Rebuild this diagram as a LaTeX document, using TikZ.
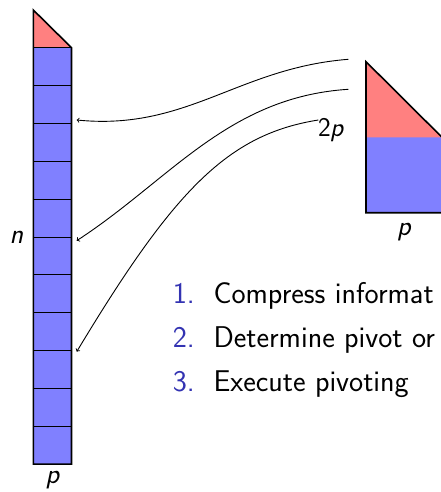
\documentclass[tikz,border=0pt]{standalone}
\usepackage{fontspec}
\definecolor{struct}{rgb}{0.2,0.2,0.7}
\begin{document}
\begin{tikzpicture}[x=1pt,y=-1pt,
  cell/.style={draw=black, line width=0.8pt, fill=blue!50, minimum width=38.2pt, minimum height=37.85pt, inner sep=0pt, outer sep=0pt, anchor=north west},
  outline/.style={line width=1.6pt, line join=miter},
  txt/.style={inner sep=0pt, font=\fontsize{30}{34}\selectfont\sffamily},
  lbl/.style={inner sep=0pt, font=\fontsize{28}{34}\selectfont\sffamily},
  num/.style={txt, text=struct, anchor=base east},
  itemtxt/.style={txt, anchor=base west},
  conn/.style={->, line width=0.9pt}]
\useasboundingbox (0,0) rectangle (441,492);
\clip (0,0) rectangle (441,492);
% left column
\foreach \i in {1,...,11} \node[cell] (c\i) at (33.3, {47.7+(\i-1)*37.85}) {};
\coordinate (tip) at (33.3,10);
\fill[red!50] (tip) -- (c1.north west) -- (c1.north east) -- cycle;
\draw[line width=0.8pt] (c1.north west) -- (c1.north east);
\draw[outline] (tip) -- (c1.north east) -- (c11.south east) -- (c11.south west) -- cycle;
% right block
\coordinate (rt) at (366,61.7);
\node[fill=blue!50, minimum width=76pt, minimum height=75.4pt, inner sep=0pt, outer sep=0pt, anchor=north west] (rb) at (366,137.3) {};
\fill[red!50] (rt) -- (rb.north west) -- (rb.north east) -- cycle;
\draw[outline] (rt) -- (rb.north east) -- (rb.south east) -- (rb.south west) -- cycle;
% labels
\node[lbl, anchor=base east] (nl) at (23.5,243.3) {\itshape n};
\node[lbl, anchor=base east, font=\fontsize{27}{34}\selectfont\sffamily] (twop) at (344.5,136.7) {2\kern-0.5pt\textit{p}};
\node[lbl, anchor=base] (pr) at (404,235) {\itshape p};
\node[lbl, anchor=base] (pl) at (52.5,483.5) {\itshape p};
% list
\node[num] (n1) at (195,303.3) {1.};
\node[itemtxt] (t1) at (213.3,303.3) {Compress informat};
\node[num] (n2) at (195,347.6) {2.};
\node[itemtxt] (t2) at (213.3,347.6) {Determine pivot or};
\node[num] (n3) at (195,391.9) {3.};
\node[itemtxt] (t3) at (213.3,391.9) {Execute pivoting};
% arrows
\coordinate (s1) at (348.3,59.3); \coordinate (e1) at (76.7,120);
\coordinate (s2) at (348.3,89.3); \coordinate (e2) at (76.7,240.7);
\coordinate (s3) at (318.3,120);  \coordinate (e3) at (76.7,351.7);
\draw[conn] (s1) .. controls (238,68) and (187,131) .. (e1);
\draw[conn] (s2) .. controls (228,97) and (170,180) .. (e2);
\draw[conn] (s3) .. controls (228.3,134.4) and (174.6,188.9) .. (e3);
\end{tikzpicture}
\end{document}
